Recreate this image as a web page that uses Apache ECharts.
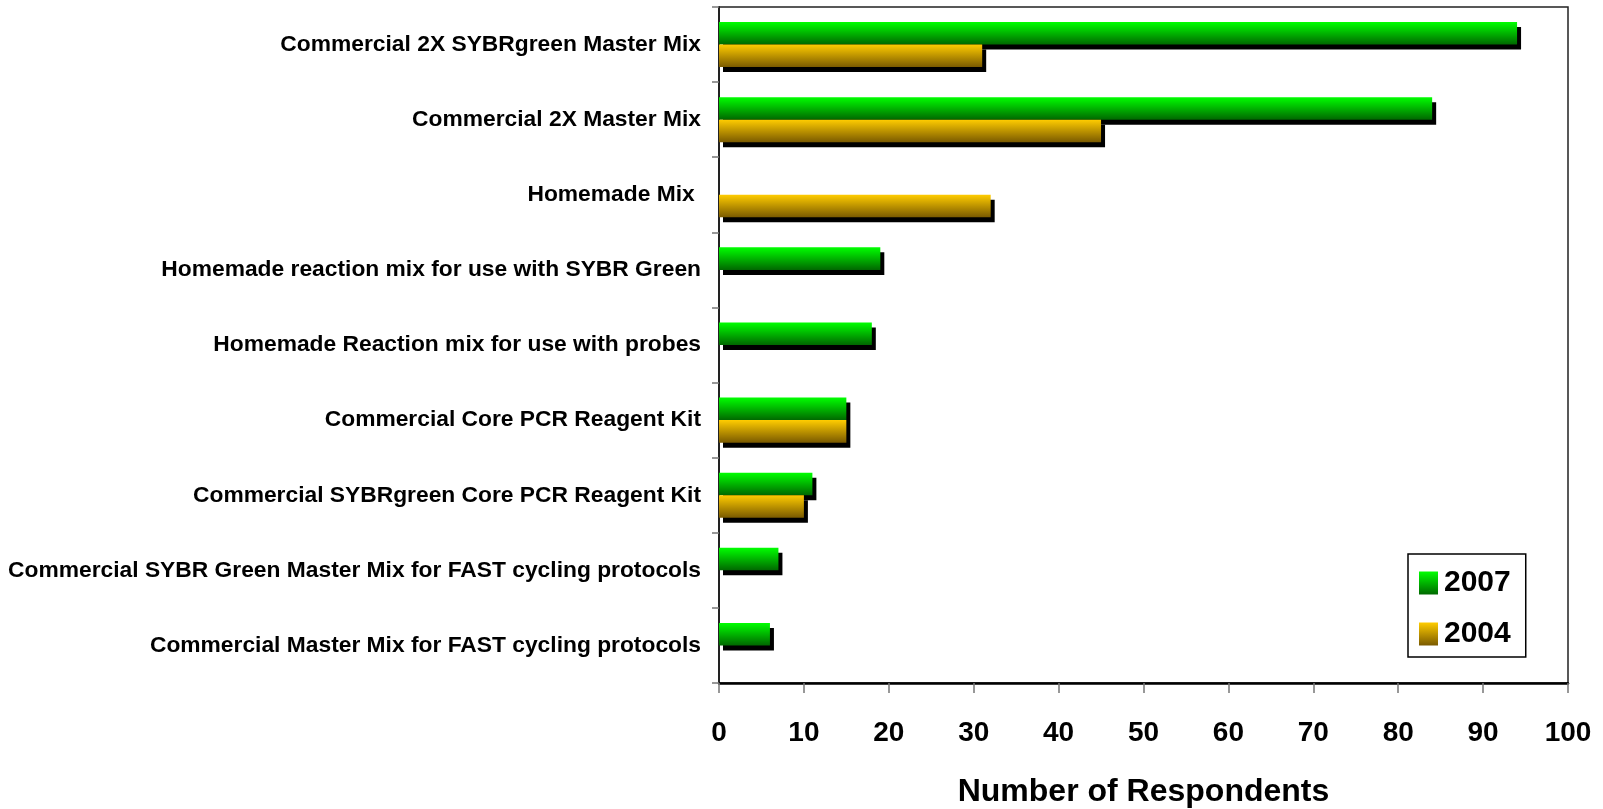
<!DOCTYPE html>
<html>
<head>
<meta charset="utf-8">
<script src="https://cdn.jsdelivr.net/npm/echarts@6/dist/echarts.min.js"></script>
<style>
html,body{margin:0;padding:0;background:#fff;}
#chart{width:1603px;height:809px;}
</style>
</head>
<body>
<div id="chart"></div>
<script>
const categories = [
  'Commercial 2X SYBRgreen Master Mix',
  'Commercial 2X Master Mix',
  'Homemade Mix ',
  'Homemade reaction mix for use with SYBR Green',
  'Homemade Reaction mix for use with probes',
  'Commercial Core PCR Reagent Kit',
  'Commercial SYBRgreen Core PCR Reagent Kit',
  'Commercial SYBR Green Master Mix for FAST cycling protocols',
  'Commercial Master Mix for FAST cycling protocols'
];
const values2007 = [94, 84, null, 19, 18, 15, 11, 7, 6];
const values2004 = [31, 45, 32, null, null, 15, 10, null, null];
const seriesNames = ['2007', '2004'];
const xTicks = { min: 0, max: 100, interval: 10 };

const FONT = "'Liberation Sans', Arial, sans-serif";
const grad = (a, b) => new echarts.graphic.LinearGradient(0, 0, 0, 1, [
  { offset: 0, color: a }, { offset: 1, color: b }
]);
const shadow = { shadowColor: '#000', shadowBlur: 0, shadowOffsetX: 4, shadowOffsetY: 5 };

const chart = echarts.init(document.getElementById('chart'), null, { renderer: 'canvas' });
chart.setOption({
  animation: false,
  backgroundColor: '#fff',
  textStyle: { fontFamily: FONT },
  grid: {
    left: 719, right: 35, top: 7, bottom: 126,
    containLabel: false,
    outerBoundsMode: 'none',
    show: true, borderColor: '#222', borderWidth: 1.5, backgroundColor: 'transparent'
  },
  legend: {
    orient: 'vertical',
    left: 1408, top: 554,
    padding: [14, 15, 8, 11],
    itemGap: 21,
    itemWidth: 19, itemHeight: 23,
    icon: 'rect',
    borderColor: '#000', borderWidth: 1.5,
    textStyle: { fontSize: 30, fontWeight: 'bold', color: '#000', fontFamily: FONT, padding: [0, 0, 0, 1] },
    itemStyle: { shadowBlur: 0, shadowOffsetX: 0, shadowOffsetY: 0, shadowColor: 'transparent', borderWidth: 0 },
    data: seriesNames
  },
  xAxis: {
    type: 'value',
    min: xTicks.min, max: xTicks.max, interval: xTicks.interval,
    name: 'Number of Respondents',
    nameLocation: 'middle',
    nameGap: 93,
    nameTextStyle: { fontSize: 32, fontWeight: 'bold', color: '#000', fontFamily: FONT },
    axisLine: { show: true, lineStyle: { color: '#000', width: 2.5 } },
    axisTick: { show: true, length: 10, lineStyle: { color: '#777', width: 1.5 } },
    axisLabel: { fontSize: 28, fontWeight: 'bold', color: '#000', margin: 36, fontFamily: FONT },
    splitLine: { show: false }
  },
  yAxis: {
    type: 'category',
    inverse: true,
    data: categories,
    axisLine: { show: true, lineStyle: { color: '#222', width: 2 } },
    axisTick: { show: true, length: 7, lineStyle: { color: '#777', width: 1.5 } },
    axisLabel: { fontSize: 22.8, fontWeight: 'bold', color: '#000', margin: 18, fontFamily: FONT },
    splitLine: { show: false }
  },
  series: [
    {
      name: seriesNames[0], type: 'bar', data: values2007,
      barGap: '0%', barCategoryGap: '40%',
      itemStyle: Object.assign({ color: grad('#00ff00', '#006800') }, shadow)
    },
    {
      name: seriesNames[1], type: 'bar', data: values2004,
      barGap: '0%', barCategoryGap: '40%',
      itemStyle: Object.assign({ color: grad('#ffcc00', '#7a5a00') }, shadow)
    }
  ]
});
</script>
</body>
</html>
